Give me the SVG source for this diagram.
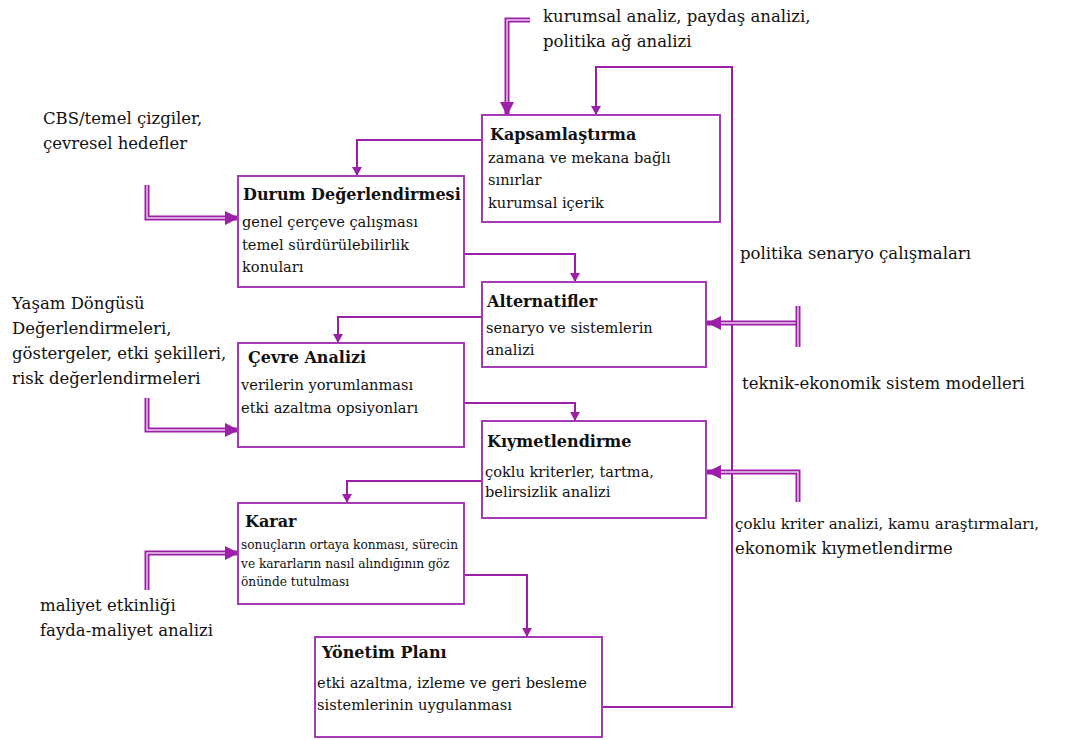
<svg xmlns="http://www.w3.org/2000/svg" width="1065" height="740" viewBox="0 0 1065 740">
  <style>
    text { font-family: "DejaVu Serif", "Liberation Serif", serif; fill: #111; }
    .lbl { font-size: 16.5px; }
    .ttl { font-size: 16px; font-weight: bold; }
    .body { font-size: 14.6px; }
    .small { font-size: 12.2px; }
    .box { fill: #fff; stroke: #a63ab6; stroke-width: 2; }
    .wire { fill: none; stroke: #9c1fa8; stroke-width: 2; }
    .dbl { fill: none; stroke: #9c1fa8; stroke-width: 5; }
    .dbl-in { fill: none; stroke: #ecd0ee; stroke-width: 1.4; }
  </style>
  <defs>
    <marker id="tip" markerUnits="userSpaceOnUse" markerWidth="10" markerHeight="10" refX="9" refY="5" orient="auto">
      <path d="M0,0 L9,5 L0,10 z" fill="#9c1fa8"/>
    </marker>
    <marker id="tipBig" markerUnits="userSpaceOnUse" markerWidth="16" markerHeight="16" refX="14" refY="8" orient="auto">
      <path d="M0,1 L14,8 L0,15 z" fill="#9c1fa8"/>
    </marker>
  </defs>

  <!-- connectors -->
  <g id="connectors">
    <!-- feedback loop from the management plan back to scoping -->
    <path class="wire" d="M602,707 H732 V67 H596 V115" marker-end="url(#tip)"/>
    <!-- step-to-step flow -->
    <path class="wire" d="M482,140 H357 V176" marker-end="url(#tip)"/>
    <path class="wire" d="M464,254 H575 V282" marker-end="url(#tip)"/>
    <path class="wire" d="M482,317 H338 V343" marker-end="url(#tip)"/>
    <path class="wire" d="M464,403 H575 V421" marker-end="url(#tip)"/>
    <path class="wire" d="M482,481 H347 V503" marker-end="url(#tip)"/>
    <path class="wire" d="M464,575 H527 V637" marker-end="url(#tip)"/>

    <!-- input arrows (double lines) -->
    <path class="dbl" d="M530,20 H507 V116" marker-end="url(#tipBig)"/>
    <path class="dbl-in" d="M531,20 H507 V102"/>

    <path class="dbl" d="M147,185 V218 H239" marker-end="url(#tipBig)"/>
    <path class="dbl-in" d="M147,184 V218 H225"/>

    <path class="dbl" d="M147,398 V430 H239" marker-end="url(#tipBig)"/>
    <path class="dbl-in" d="M147,397 V430 H225"/>

    <path class="dbl" d="M147,590 V553 H239" marker-end="url(#tipBig)"/>
    <path class="dbl-in" d="M147,591 V553 H225"/>

    <path class="dbl" d="M798,323 H707" marker-end="url(#tipBig)"/>
    <path class="dbl-in" d="M798,323 H721"/>
    <path class="dbl" d="M798,306 V347"/>
    <path class="dbl-in" d="M798,305 V348"/>

    <path class="dbl" d="M798,502 V472 H707" marker-end="url(#tipBig)"/>
    <path class="dbl-in" d="M798,503 V472 H721"/>
  </g>

  <!-- process steps -->
  <g id="kapsamlastirma">
    <rect class="box" x="482" y="115" width="238" height="107"/>
    <text class="ttl" x="490" y="140">Kapsamlaştırma</text>
    <text class="body" x="488" y="163">zamana ve mekana bağlı</text>
    <text class="body" x="488" y="185">sınırlar</text>
    <text class="body" x="488" y="208">kurumsal içerik</text>
  </g>

  <g id="durum">
    <rect class="box" x="238" y="176" width="226" height="111"/>
    <text class="ttl" x="243" y="200">Durum Değerlendirmesi</text>
    <text class="body" x="242" y="227">genel çerçeve çalışması</text>
    <text class="body" x="242" y="250">temel sürdürülebilirlik</text>
    <text class="body" x="242" y="272">konuları</text>
  </g>

  <g id="alternatifler">
    <rect class="box" x="482" y="282" width="224" height="85"/>
    <text class="ttl" x="487" y="307">Alternatifler</text>
    <text class="body" x="486" y="333">senaryo ve sistemlerin</text>
    <text class="body" x="486" y="355">analizi</text>
  </g>

  <g id="cevre">
    <rect class="box" x="238" y="343" width="226" height="104"/>
    <text class="ttl" x="248" y="363">Çevre Analizi</text>
    <text class="body" x="241" y="390">verilerin yorumlanması</text>
    <text class="body" x="241" y="413">etki azaltma opsiyonları</text>
  </g>

  <g id="kiymetlendirme">
    <rect class="box" x="482" y="421" width="224" height="97"/>
    <text class="ttl" x="487" y="447">Kıymetlendirme</text>
    <text class="body" x="485" y="477">çoklu kriterler, tartma,</text>
    <text class="body" x="485" y="497">belirsizlik analizi</text>
  </g>

  <g id="karar">
    <rect class="box" x="238" y="503" width="226" height="101"/>
    <text class="ttl" x="245" y="527">Karar</text>
    <text class="small" x="241" y="549">sonuçların ortaya konması, sürecin</text>
    <text class="small" x="241" y="568">ve kararların nasıl alındığının göz</text>
    <text class="small" x="241" y="586">önünde tutulması</text>
  </g>

  <g id="yonetim">
    <rect class="box" x="315" y="637" width="287" height="100"/>
    <text class="ttl" x="322" y="658">Yönetim Planı</text>
    <text class="body" x="317" y="688">etki azaltma, izleme ve geri besleme</text>
    <text class="body" x="317" y="710">sistemlerinin uygulanması</text>
  </g>

  <!-- input labels -->
  <g id="input-kurumsal">
    <text class="lbl" x="543" y="22">kurumsal analiz, paydaş analizi,</text>
    <text class="lbl" x="543" y="47">politika ağ analizi</text>
  </g>
  <g id="input-cbs">
    <text class="lbl" x="43" y="124">CBS/temel çizgiler,</text>
    <text class="lbl" x="43" y="149">çevresel hedefler</text>
  </g>
  <g id="input-yasam">
    <text class="lbl" x="12" y="309">Yaşam Döngüsü</text>
    <text class="lbl" x="12" y="334">Değerlendirmeleri,</text>
    <text class="lbl" x="12" y="359">göstergeler, etki şekilleri,</text>
    <text class="lbl" x="12" y="384">risk değerlendirmeleri</text>
  </g>
  <g id="input-politika">
    <text class="lbl" x="740" y="259">politika senaryo çalışmaları</text>
  </g>
  <g id="input-teknik">
    <text class="lbl" x="742" y="389">teknik-ekonomik sistem modelleri</text>
  </g>
  <g id="input-coklu">
    <text class="lbl" x="735" y="529" style="font-size:15px">çoklu kriter analizi, kamu araştırmaları,</text>
    <text class="lbl" x="735" y="554">ekonomik kıymetlendirme</text>
  </g>
  <g id="input-maliyet">
    <text class="lbl" x="40" y="611">maliyet etkinliği</text>
    <text class="lbl" x="40" y="636">fayda-maliyet analizi</text>
  </g>
</svg>
